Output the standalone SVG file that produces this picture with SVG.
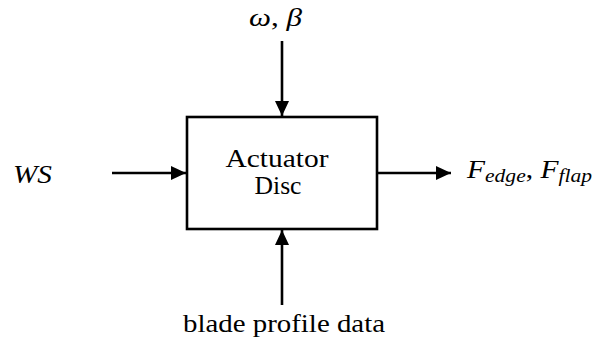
<svg xmlns="http://www.w3.org/2000/svg" width="597" height="343" viewBox="0 0 597 343">
<style>
  text { font-family: "Liberation Serif", "Times New Roman", serif; fill: #000; }
  .lbl { font-size: 25px; }
  .math { font-size: 26px; font-style: italic; }
  .sub { font-size: 19px; font-style: italic; }
  .conn { stroke: #000; stroke-width: 2.6; fill: none; }
  .box { stroke: #000; stroke-width: 2.6; fill: #fff; }
</style>
<defs>
  <marker id="arr" markerUnits="userSpaceOnUse" markerWidth="16" markerHeight="14" refX="15" refY="7" orient="auto">
    <path d="M0,0 L15,7 L0,14 Z" fill="#000"/>
  </marker>
</defs>
<g id="connectors">
  <line class="conn" x1="282" y1="41" x2="282" y2="116" marker-end="url(#arr)"/>
  <line class="conn" x1="112" y1="173" x2="186" y2="173" marker-end="url(#arr)"/>
  <line class="conn" x1="377" y1="173" x2="451" y2="173" marker-end="url(#arr)"/>
  <line class="conn" x1="282" y1="305" x2="282" y2="230" marker-end="url(#arr)"/>
</g>
<g id="actuator-disc">
  <rect class="box" x="187" y="117" width="190" height="112"/>
  <text class="lbl" x="277" y="167" text-anchor="middle" textLength="103" lengthAdjust="spacingAndGlyphs">Actuator</text>
  <text class="lbl" x="278" y="194" text-anchor="middle" textLength="47" lengthAdjust="spacingAndGlyphs">Disc</text>
</g>
<g id="input-omega-beta">
  <text class="math" x="249" y="26" textLength="53" lengthAdjust="spacingAndGlyphs">ω<tspan font-style="normal">,</tspan> β</text>
</g>
<g id="input-ws">
  <text class="math" x="13" y="183" textLength="39" lengthAdjust="spacingAndGlyphs">WS</text>
</g>
<g id="output-forces">
  <text class="math" x="467" y="178" textLength="125" lengthAdjust="spacingAndGlyphs">F<tspan class="sub" dy="4">edge</tspan><tspan dy="-4" font-style="normal">, </tspan>F<tspan class="sub" dy="4">flap</tspan></text>
</g>
<g id="input-blade-profile">
  <text class="lbl" x="183" y="332" textLength="202" lengthAdjust="spacingAndGlyphs">blade profile data</text>
</g>
</svg>
